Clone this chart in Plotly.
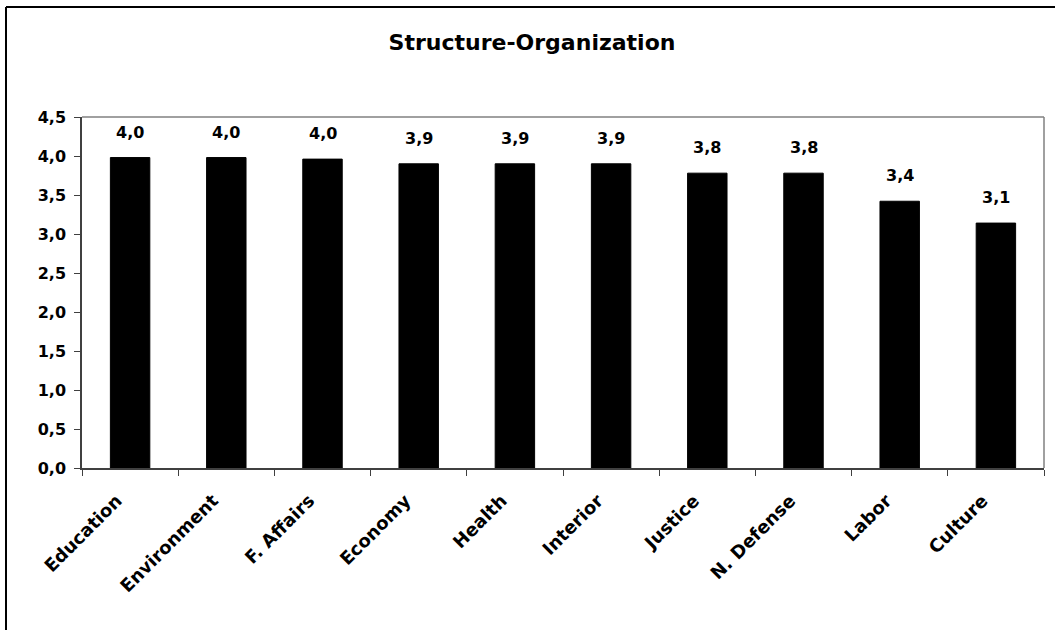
import plotly.graph_objects as go

categories = ["Education", "Environment", "F. Affairs", "Economy", "Health",
              "Interior", "Justice", "N. Defense", "Labor", "Culture"]
values = [3.98, 3.98, 3.96, 3.90, 3.90, 3.90, 3.78, 3.78, 3.42, 3.14]
title_text = "Structure-Organization"

FONT = "DejaVu Sans, Verdana, sans-serif"
labels = [f"{v:.1f}".replace(".", ",") for v in values]
tick_text = [c + "\u00a0" * 3 for c in categories]

fig = go.Figure()
fig.add_trace(go.Bar(
    x=categories, y=values,
    marker=dict(color="black", line=dict(color="black", width=1)),
    width=0.41,
    hoverinfo="skip",
))

for c, v, t in zip(categories, values, labels):
    fig.add_annotation(x=c, y=v, text=t, showarrow=False, yanchor="bottom",
                       yshift=14, font=dict(family=FONT, size=16, color="black", weight="bold"))

fig.update_layout(
    width=1055, height=630,
    margin=dict(l=82, r=11, t=117, b=162),
    paper_bgcolor="white", plot_bgcolor="white",
    separators=",.",
    showlegend=False,
    title=dict(text=title_text, x=532 / 1055, xref="container", xanchor="center",
               y=1 - 42 / 630, yref="container", yanchor="middle",
               font=dict(family=FONT, size=22, color="black", weight="bold")),
    bargap=0.59,
)

fig.update_xaxes(
    type="category", showline=True, linecolor="#404040", linewidth=1.5,
    ticks="outside", tickson="boundaries", ticklen=6, tickcolor="#404040",
    tickangle=-45, showgrid=False, ticklabelstandoff=0,
    tickvals=categories, ticktext=tick_text,
    tickfont=dict(family=FONT, size=18, color="black", weight="bold"),
)
fig.update_yaxes(
    range=[0, 4.5], dtick=0.5, tickformat=".1f", showline=True,
    linecolor="#404040", linewidth=1.5, ticks="outside", ticklen=6,
    tickcolor="#404040", showgrid=False, zeroline=False, ticklabelstandoff=5,
    tickfont=dict(family=FONT, size=16, color="black", weight="bold"),
)

# gray plot-area border on top and right
fig.add_shape(type="line", xref="x domain", yref="y domain", x0=0, x1=1, y0=1, y1=1,
              line=dict(color="#808080", width=1.5))
fig.add_shape(type="line", xref="x domain", yref="y domain", x0=1, x1=1, y0=0, y1=1,
              line=dict(color="#808080", width=1.5))

# outer chart border (top and left visible)
fig.add_shape(type="line", xref="paper", yref="paper",
              x0=-76 / 962, x1=2, y0=1 + 110 / 351, y1=1 + 110 / 351,
              line=dict(color="black", width=2))
fig.add_shape(type="line", xref="paper", yref="paper",
              x0=-76 / 962, x1=-76 / 962, y0=1 + 110 / 351, y1=-2,
              line=dict(color="black", width=2))

fig.write_html("out.html", config={"displayModeBar": False},
               post_script="document.body.style.margin='0';")
